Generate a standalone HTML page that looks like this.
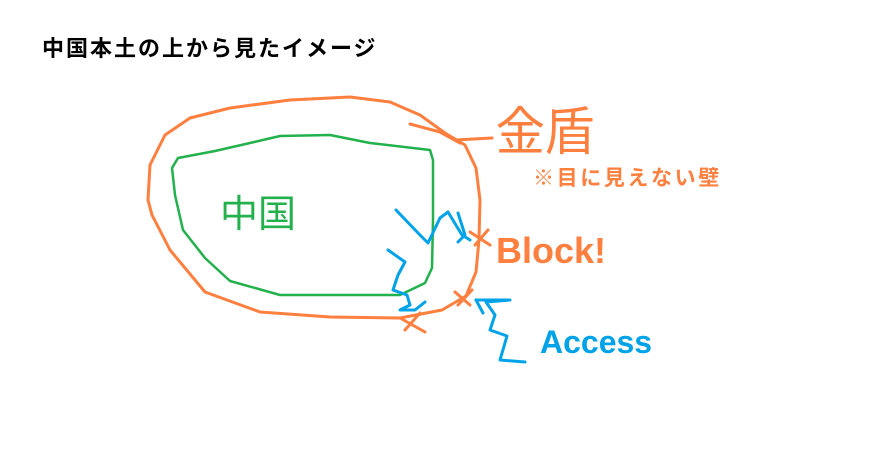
<!DOCTYPE html><html><head><meta charset="utf-8"><style>
body{margin:0;width:870px;height:471px;background:#fff;position:relative;overflow:hidden;font-family:"Liberation Sans","Noto Sans CJK JP",sans-serif}
.t{position:absolute;white-space:nowrap;font-weight:bold}
</style></head><body>
<svg width="870" height="471" style="position:absolute;left:0;top:0" fill="none" stroke-linecap="round" stroke-linejoin="round">
<g stroke="#ff7f3f" stroke-width="3">
<polyline points="148,200 150,165 165,135 190,118 230,108 290,100 350,97 390,102 420,115 445,133 465,145 476,168 480,200 479,240 476,272 466,296 442,310 400,318 330,317 260,312 205,292 170,250 152,215 148,200"/>
<polyline points="455,140 492,138"/>
<polyline points="410,124 440,132 460,143"/>
<polyline points="470,232 490,245"/><polyline points="475,245 488,230"/>
<polyline points="455,292 470,305"/><polyline points="458,305 472,290"/>
<polyline points="400,318 425,332"/><polyline points="405,330 420,313"/>
</g>
<g stroke="#22b14c" stroke-width="2.5">
<polyline points="172,168 178,158 215,151 250,143 280,136 330,135 370,143 430,150 433,160 433,220 432,268 425,283 400,295 280,295 230,281 205,258 183,230 175,195 172,168"/>
</g>
<g stroke="#00a2e8" stroke-width="3">
<polyline points="396,210 420,235 428,243 440,218 448,212 462,235 470,240"/>
<polyline points="458,213 465,235 458,242"/>
<polyline points="388,250 405,262 398,275 393,290 407,295 410,305 400,310 415,310 425,302"/>
<polyline points="476,300 510,300 486,302 495,315 490,330 507,336 500,360 525,362"/>
<polyline points="476,300 483,313"/>
</g>
</svg>
<div class="t" style="left:42px;top:31px;font-size:22px;letter-spacing:2px;color:#000">中国本土の上から見たイメージ</div>
<div class="t" style="left:493px;top:90px;font-size:52px;color:#ff7f3f;font-weight:normal;transform:scaleX(0.95)">金盾</div>
<div class="t" style="left:533px;top:162px;font-size:21px;letter-spacing:2.6px;color:#ff7f3f">※目に見えない壁</div>
<div class="t" style="left:496px;top:230px;font-size:36px;color:#ff7f3f">Block!</div>
<div class="t" style="left:540px;top:324px;font-size:32px;color:#00a2e8">Access</div>
<div class="t" style="left:220px;top:183px;font-size:38px;color:#22b14c;font-weight:normal">中国</div>
</body></html>
